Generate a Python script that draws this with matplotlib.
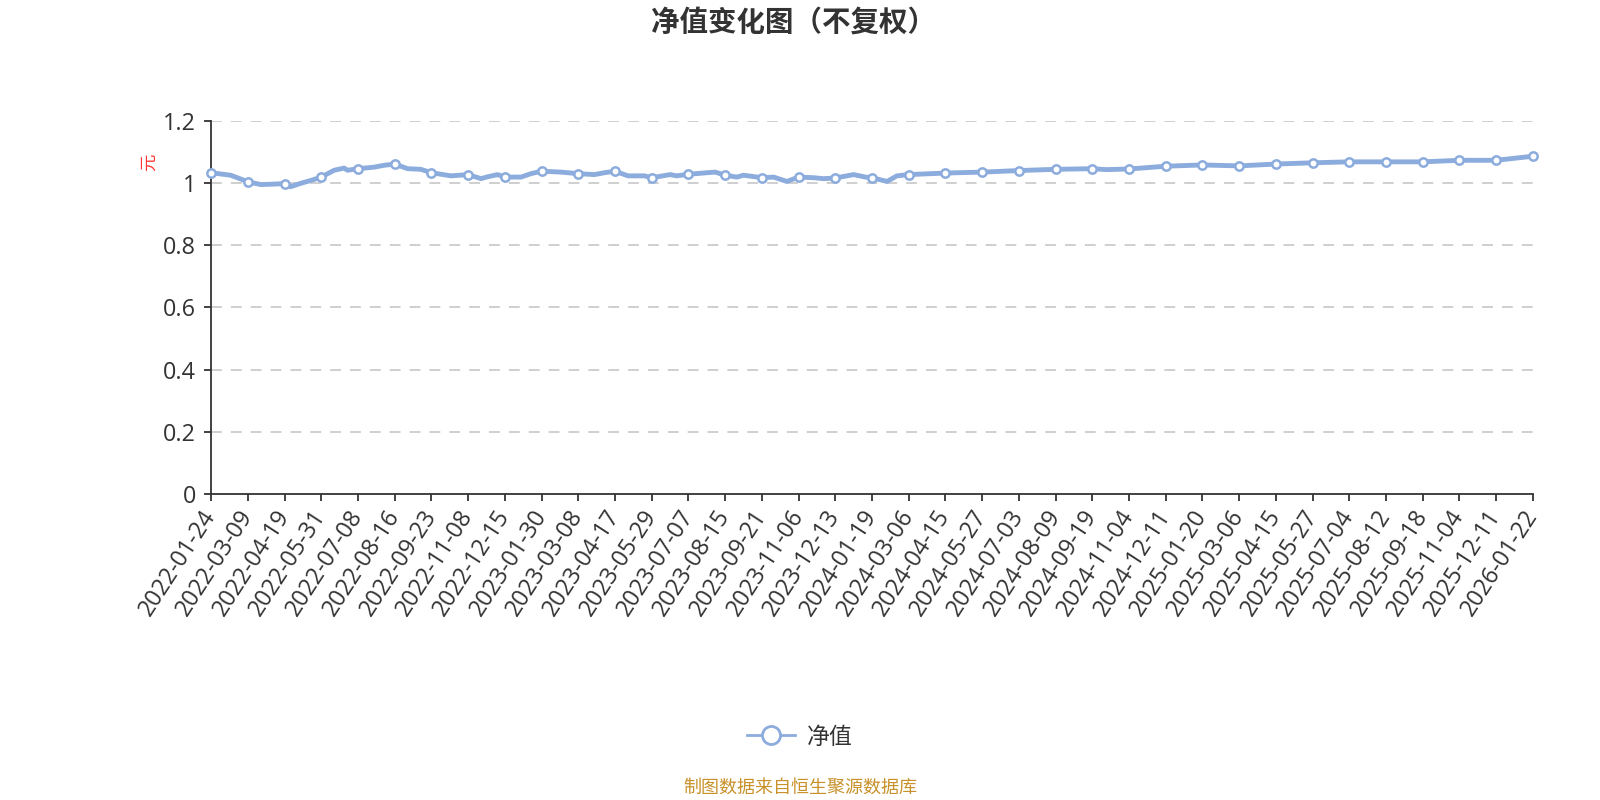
import matplotlib
matplotlib.use('Agg')
import matplotlib.pyplot as plt
from matplotlib.lines import Line2D

plt.rcParams['font.family'] = ['Noto Sans CJK SC', 'DejaVu Sans']

# Dates shown on the x axis (category axis, one marker per label)
dates = ['2022-01-24', '2022-03-09', '2022-04-19', '2022-05-31', '2022-07-08', '2022-08-16',
         '2022-09-23', '2022-11-08', '2022-12-15', '2023-01-30', '2023-03-08', '2023-04-17',
         '2023-05-29', '2023-07-07', '2023-08-15', '2023-09-21', '2023-11-06', '2023-12-13',
         '2024-01-19', '2024-03-06', '2024-04-15', '2024-05-27', '2024-07-03', '2024-08-09',
         '2024-09-19', '2024-11-04', '2024-12-11', '2025-01-20', '2025-03-06', '2025-04-15',
         '2025-05-27', '2025-07-04', '2025-08-12', '2025-09-18', '2025-11-04', '2025-12-11',
         '2026-01-22']

# NAV at each labelled date
nav = [1.033, 1.004, 0.998, 1.019, 1.046, 1.061, 1.033, 1.027, 1.019, 1.038,
       1.030, 1.038, 1.017, 1.028, 1.025, 1.017, 1.019, 1.016, 1.017, 1.027,
       1.032, 1.035, 1.040, 1.044, 1.046, 1.045, 1.054, 1.058, 1.055, 1.061,
       1.065, 1.068, 1.068, 1.068, 1.073, 1.073, 1.086]

# extra NAV readings between labelled dates (position in label steps)
mid_pos = [0.53, 0.71, 1.35, 1.62, 2.16, 2.44, 2.71, 3.35, 3.62, 3.71, 4.44, 4.71,
           5.35, 5.71, 6.53, 7.35, 7.53, 7.8, 8.44, 8.71, 9.53, 10.44, 10.71,
           11.35, 11.8, 12.5, 12.68, 13.5, 13.73, 14.32, 14.5, 15.32, 15.68,
           16.41, 16.68, 17.5, 17.82, 18.41, 18.68, 24.38]
mid_val = [1.025, 1.017, 0.995, 0.996, 0.988, 0.999, 1.008, 1.041, 1.048, 1.041, 1.051, 1.057,
           1.046, 1.044, 1.023, 1.014, 1.020, 1.027, 1.019, 1.030, 1.035, 1.027, 1.033,
           1.023, 1.023, 1.027, 1.023, 1.033, 1.035, 1.019, 1.025, 1.019, 1.005,
           1.017, 1.014, 1.027, 1.019, 1.005, 1.023, 1.043]

line_color = '#8cacdd'
text_color = '#333333'
tick_font = ['Open Sans', 'DejaVu Sans']

pts = sorted(list(zip(range(len(nav)), nav)) + list(zip(mid_pos, mid_val)))
line_x = [p[0] for p in pts]
line_y = [p[1] for p in pts]

fig = plt.figure(figsize=(16, 8), dpi=100)
ax = fig.add_axes([0.132, 0.3825, 0.826, 0.4665])

ax.plot(line_x, line_y, color=line_color, linewidth=3.5, solid_joinstyle='round', zorder=3)
ax.plot(range(len(nav)), nav, linestyle='none', marker='o', markersize=6,
        markerfacecolor='white', markeredgecolor=line_color, markeredgewidth=1.8,
        clip_on=False, zorder=4)

ax.set_xlim(0, len(dates) - 1)
ax.set_ylim(0, 1.2)
ax.set_xticks(range(len(dates)))
ax.set_xticklabels(dates, rotation=57, ha='right', va='center', rotation_mode='anchor',
                   fontsize=16.8, color=text_color, family=tick_font)
yt = [0, 0.2, 0.4, 0.6, 0.8, 1.0, 1.2]
ax.set_yticks(yt)
ax.set_yticklabels(['0', '0.2', '0.4', '0.6', '0.8', '1', '1.2'], fontsize=16.8,
                   color=text_color, family=tick_font)
ax.tick_params(axis='both', direction='out', length=5, width=1.3, color=text_color)
ax.tick_params(axis='x', pad=8)
ax.tick_params(axis='y', pad=6)

for v in yt[1:]:
    ax.axhline(v, color='#cccccc', linewidth=1.3, linestyle=(0, (6, 5)), zorder=1)

for s in ['top', 'right']:
    ax.spines[s].set_visible(False)
for s in ['left', 'bottom']:
    ax.spines[s].set_color(text_color)
    ax.spines[s].set_linewidth(1.3)

fig.text(149 / 1600, 1 - 162 / 800, '元', color='#ff3333', fontsize=12.5,
         rotation=90, ha='center', va='center')

fig.text(0.496, 1 - 23 / 800, '净值变化图（不复权）', fontsize=20.5, fontweight='bold',
         color=text_color, ha='center', va='center')

handle = Line2D([], [], color=line_color, linewidth=2, marker='o', markersize=13,
                markerfacecolor='white', markeredgecolor=line_color, markeredgewidth=2)
fig.legend([handle], ['净值'], loc='center', bbox_to_anchor=(0.5, 1 - 737 / 800),
           frameon=False, fontsize=16.5, handlelength=2.1, handletextpad=0.5,
           labelcolor=text_color)

fig.text(0.5, 1 - 788 / 800, '制图数据来自恒生聚源数据库', fontsize=13, color='#c8912a',
         ha='center', va='center')

fig.savefig('out.png', dpi=100)
